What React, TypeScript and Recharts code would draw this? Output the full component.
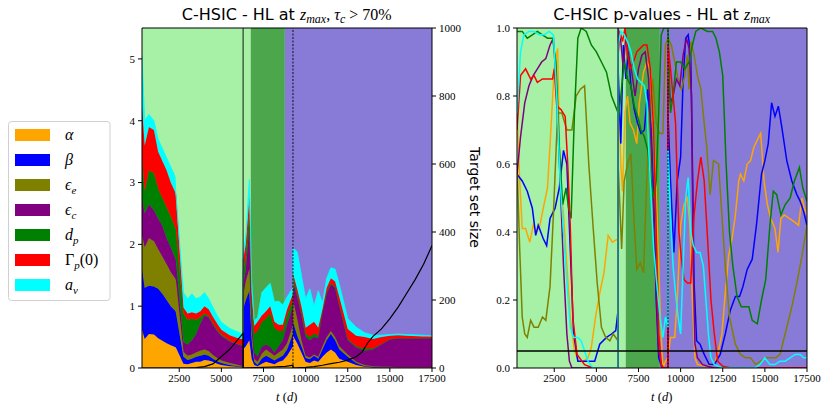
import React from 'react';
import { ComposedChart, Area, Line, XAxis, YAxis, ReferenceArea, ReferenceLine } from 'recharts';

const SERIF = "'Liberation Serif', 'DejaVu Serif', serif";
const SANS = "'DejaVu Sans', sans-serif";

const T0 = 290;
const T1 = 17500;
const B1 = 6290; // solid boundary
const B2 = 9250; // dotted boundary
const DARK0 = 6740;
const DARK1 = 8770;

const xTicks = [2500, 5000, 7500, 10000, 12500, 15000, 17500];
const leftTicks = [0, 1, 2, 3, 4, 5];
const sizeTicks = [0, 200, 400, 600, 800, 1000];
const pTicks = [0, 0.2, 0.4, 0.6, 0.8, 1.0];

const names = ['α', 'β', 'ϵe', 'ϵc', 'dp', 'Γp(0)', 'av'];
const colors = ['#ffa500', '#0000ff', '#808000', '#800080', '#008000', '#ff0000', '#00ffff'];

// ---- left chart: stacked HSIC indices (layer thickness) ----
const stackT = [
  290, 450, 700, 1000, 1250, 1500, 1750, 2000, 2250, 2300, 2750, 3000, 3250, 3500, 3750, 4000, 4250, 4500, 4750, 5000, 5500, 6000, 6290,
  6290, 6450, 6660, 6800, 6950, 7150, 7400, 7650, 7900, 8150, 8400, 8650, 8900, 9250,
  9250, 9500, 9750, 10000, 10250, 10500, 10750, 11000, 11250, 11500, 11750, 12000, 12500, 13000, 13500, 14000, 14500, 15000, 15500, 16000, 17000, 17500,
];
const alphaS = [
  0.62, 0.47, 0.55, 0.54, 0.48, 0.44, 0.40, 0.37, 0.34, 0.33, 0.07, 0.06, 0.08, 0.10, 0.10, 0.13, 0.12, 0.10, 0.07, 0.05, 0.03, 0.02, 0.01,
  0.30, 0.35, 0.45, 0.15, 0.05, 0.03, 0.07, 0.10, 0.08, 0.06, 0.10, 0.12, 0.20, 0.35,
  0.52, 0.40, 0.25, 0.10, 0.08, 0.12, 0.10, 0.18, 0.25, 0.30, 0.25, 0.15, 0.10, 0.05, 0.02, 0.01, 0.01, 0, 0, 0, 0, 0,
];
const betaS = [
  0.98, 0.83, 0.78, 0.78, 0.80, 0.76, 0.70, 0.63, 0.59, 0.57, 0.11, 0.07, 0.07, 0.08, 0.10, 0.09, 0.08, 0.05, 0.04, 0.03, 0.02, 0.01, 0.01,
  0.65, 0.75, 0.80, 0.30, 0.05, 0.02, 0.08, 0.10, 0.08, 0.06, 0.06, 0.08, 0.10, 0.20,
  0.23, 0.12, 0.10, 0.06, 0.06, 0.08, 0.05, 0.12, 0.20, 0.25, 0.20, 0.15, 0.08, 0.03, 0.01, 0.01, 0, 0.01, 0, 0, 0, 0,
];
const epsES = [
  0.55, 0.65, 0.77, 0.73, 0.64, 0.60, 0.58, 0.55, 0.52, 0.52, 0.08, 0.07, 0.07, 0.07, 0.08, 0.08, 0.07, 0.06, 0.05, 0.04, 0.03, 0.02, 0.01,
  0.20, 0.30, 0.35, 0.15, 0.05, 0.05, 0.08, 0.10, 0.09, 0.08, 0.09, 0.10, 0.10, 0.15,
  0.35, 0.28, 0.10, 0.04, 0.03, 0.02, 0.03, 0.05, 0.05, 0.05, 0.05, 0.05, 0.04, 0.02, 0.02, 0.01, 0.01, 0.01, 0.01, 0.01, 0.01, 0.01,
];
const epsCS = [
  0.60, 0.55, 0.55, 0.50, 0.50, 0.50, 0.42, 0.40, 0.33, 0.33, 0.16, 0.18, 0.23, 0.30, 0.44, 0.55, 0.55, 0.49, 0.44, 0.40, 0.35, 0.33, 0.33,
  0.20, 0.20, 0.70, 0.20, 0.10, 0.08, 0.11, 0.08, 0.09, 0.05, 0.10, 0.15, 0.30, 0.30,
  0.30, 0.35, 0.40, 0.30, 0.28, 0.28, 0.30, 0.55, 0.70, 0.75, 0.80, 0.65, 0.23, 0.23, 0.23, 0.27, 0.36, 0.44, 0.47, 0.47, 0.47, 0.47,
];
const dpS = [
  0.65, 0.35, 0.55, 0.60, 0.48, 0.45, 0.50, 0.50, 0.50, 0.50, 0.46, 0.40, 0.35, 0.23, 0.10, 0.03, 0.02, 0.02, 0.02, 0.02, 0.01, 0.01, 0.01,
  0.20, 0.20, 0.25, 0.20, 0.30, 0.42, 0.41, 0.42, 0.54, 0.40, 0.25, 0.15, 0.15, 0.10,
  0.08, 0.05, 0.05, 0.06, 0.05, 0.06, 0.04, 0.02, 0.02, 0.02, 0.02, 0.02, 0.02, 0.02, 0.03, 0.02, 0.01, 0.01, 0, 0, 0, 0,
];
const gammaS = [
  0.85, 0.75, 0.70, 0.70, 0.60, 0.60, 0.60, 0.55, 0.57, 0.55, 0.10, 0.10, 0.10, 0.10, 0.10, 0.12, 0.11, 0.11, 0.10, 0.08, 0.09, 0.09, 0.09,
  0.20, 0.20, 0.20, 0.20, 0.13, 0.15, 0.10, 0.12, 0.12, 0.10, 0.10, 0.10, 0.10, 0.10,
  0.05, 0.08, 0.10, 0.09, 0.20, 0.19, 0.13, 0.03, 0.08, 0.08, 0.08, 0.13, 0.16, 0.17, 0.19, 0.15, 0.11, 0.05, 0.05, 0.04, 0.03, 0.03,
];
const avS = [
  0.80, 0.40, 0.20, 0.15, 0.20, 0.20, 0.20, 0.25, 0.25, 0.03, 0.24, 0.24, 0.30, 0.24, 0.23, 0.22, 0.17, 0.15, 0.13, 0.12, 0.11, 0.10, 0.09,
  0.10, 0.15, 0.30, 0.20, 0.09, 0.07, 0.37, 0.38, 0.37, 0.32, 0.38, 0.32, 0.20, 0.10,
  0.41, 0.60, 0.50, 0.47, 0.58, 0.25, 0.60, 0.10, 0.15, 0.17, 0.20, 0.20, 0.17, 0.14, 0.07, 0.06, 0.03, 0.02, 0.02, 0.02, 0.02, 0.01,
];

// target set size (right axis of left chart)
const targetSize: [number, number][] = [
  [290, 0], [2500, 0], [3000, 0], [3500, 1], [4000, 4], [4500, 12], [5000, 34], [5500, 55], [6000, 85], [6290, 102],
  [6290, 0], [7000, 1], [8000, 3], [8800, 5], [9250, 8],
  [9250, 0], [10000, 2], [10500, 4], [11000, 8], [11500, 13], [12000, 17], [12500, 23], [13000, 33], [13350, 47], [13700, 75],
  [14000, 93], [14500, 115], [15000, 145], [15500, 180], [16000, 220], [16500, 260], [17000, 305], [17500, 360],
];

// ---- right chart: p-values ----
const pAlpha: [number, number][] = [
  [290, 0.75], [450, 0.55], [600, 0.41], [800, 0.41], [1050, 0.37], [1250, 0.42], [1450, 0.40], [1650, 0.42], [1850, 0.47], [2100, 0.53], [2300, 0.70], [2500, 0.88], [2700, 0.94], [2850, 0.55], [3050, 0.45], [3250, 0.30], [3450, 0.15], [3700, 0.05], [3950, 0.02], [4250, 0.02], [4500, 0.03], [4700, 0.06], [4950, 0.15], [5200, 0.22], [5450, 0.28], [5700, 0.39], [5950, 0.37], [6290, 0.38],
  [6290, 0.85], [6450, 0.6], [6550, 0.52], [6700, 0.75], [6850, 0.8], [7000, 0.72], [7200, 0.7], [7400, 0.66], [7550, 0.78], [7800, 0.87], [8000, 0.9], [8200, 0.88], [8400, 0.7], [8600, 0.45], [8800, 0.15], [8950, 0.0], [9100, 0.02], [9250, 0.03],
  [9250, 0.03], [9400, 0.09], [9650, 0.09], [9800, 0.2], [10000, 0.42], [10200, 0.48], [10400, 0.5], [10550, 0.42], [10700, 0.2], [10850, 0.03], [11000, 0.01], [11500, 0.005], [12000, 0.01], [12250, 0.05], [12450, 0.1], [12650, 0.22], [12850, 0.33], [13050, 0.38], [13250, 0.45], [13450, 0.55], [13550, 0.57], [13750, 0.55], [13950, 0.6], [14150, 0.61], [14350, 0.65], [14550, 0.67], [14750, 0.69], [14950, 0.55], [15150, 0.48], [15350, 0.44], [15600, 0.41], [15780, 0.34], [15950, 0.44], [16150, 0.45], [16450, 0.44], [16750, 0.43], [17000, 0.42], [17200, 0.5], [17350, 0.47], [17500, 0.45],
];
const pBeta: [number, number][] = [
  [290, 0.57], [600, 0.55], [900, 0.52], [1200, 0.47], [1400, 0.39], [1550, 0.42], [1700, 0.40], [1850, 0.38], [2050, 0.36], [2250, 0.44], [2550, 0.47], [2800, 0.53], [3050, 0.64], [3250, 0.6], [3450, 0.35], [3650, 0.1], [3900, 0.02], [4300, 0.02], [4900, 0.02], [5200, 0.07], [5600, 0.09], [5900, 0.1], [6150, 0.11], [6290, 0.17],
  [6290, 0.88], [6450, 0.66], [6600, 0.95], [6750, 0.85], [6900, 0.93], [7050, 0.83], [7250, 0.76], [7450, 0.72], [7650, 0.69], [7850, 0.7], [8050, 0.82], [8250, 0.7], [8400, 0.5], [8550, 0.2], [8700, 0.03], [8900, 0], [9250, 0],
  [9250, 0.75], [9400, 0.55], [9600, 0.34], [9800, 0.55], [10000, 0.62], [10150, 0.85], [10300, 0.97], [10450, 0.98], [10600, 0.92], [10700, 0.6], [10800, 0.25], [10950, 0.08], [11150, 0.07], [11400, 0.04], [11700, 0.01], [12000, 0.01], [12350, 0.04], [12650, 0.1], [12950, 0.17], [13250, 0.21], [13500, 0.21], [13700, 0.24], [13950, 0.29], [14250, 0.32], [14500, 0.42], [14800, 0.57], [15000, 0.61], [15200, 0.66], [15400, 0.78], [15600, 0.74], [15800, 0.77], [16000, 0.71], [16300, 0.61], [16600, 0.55], [16900, 0.51], [17100, 0.49], [17300, 0.46], [17500, 0.42],
];
const pEpsE: [number, number][] = [
  [290, 0.6], [450, 0.35], [600, 0.15], [750, 0.1], [900, 0.09], [1100, 0.14], [1300, 0.12], [1550, 0.12], [1800, 0.15], [2000, 0.14], [2250, 0.24], [2450, 0.45], [2700, 0.75], [2950, 0.75], [3250, 0.7], [3550, 0.7], [3800, 0.8], [4050, 0.82], [4300, 0.83], [4550, 0.6], [4800, 0.42], [5050, 0.25], [5300, 0.12], [5550, 0.09], [5800, 0.08], [6000, 0.1], [6290, 0.08],
  [6290, 0.6], [6500, 0.35], [6650, 0.55], [6850, 0.6], [7050, 0.63], [7250, 0.42], [7400, 0.29], [7600, 0.31], [7800, 0.28], [7950, 0.5], [8150, 0.75], [8350, 0.85], [8550, 0.72], [8750, 0.69], [8950, 0.69], [9100, 0.95], [9250, 0.97],
  [9250, 0.97], [9450, 0.95], [9650, 0.9], [9850, 0.85], [10050, 0.82], [10250, 0.86], [10400, 0.92], [10500, 0.82], [10600, 0.96], [10800, 0.92], [11000, 0.86], [11200, 0.82], [11400, 0.72], [11550, 0.65], [11750, 0.51], [11950, 0.61], [12250, 0.6], [12450, 0.45], [12650, 0.3], [12900, 0.15], [13250, 0.07], [13550, 0.04], [13850, 0.03], [14150, 0.03], [14450, 0.01], [14750, 0.02], [15050, 0.03], [15350, 0.03], [15650, 0.03], [15900, 0.04], [16100, 0.08], [16300, 0.12], [16600, 0.18], [16900, 0.25], [17200, 0.33], [17500, 0.42],
];
const pEpsC: [number, number][] = [
  [290, 0.57], [500, 0.68], [750, 0.78], [1000, 0.83], [1250, 0.86], [1500, 0.88], [1750, 0.9], [2000, 0.91], [2250, 0.95], [2450, 0.97], [2600, 0.85], [2850, 0.55], [3050, 0.3], [3250, 0.1], [3400, 0.02], [3550, 0], [6290, 0],
  [6290, 1.0], [6450, 0.96], [6600, 0.88], [6750, 0.98], [6900, 0.92], [7100, 0.87], [7300, 0.8], [7500, 0.88], [7700, 0.92], [7900, 0.93], [8100, 0.85], [8300, 0.6], [8500, 0.3], [8700, 0.05], [8900, 0], [9250, 0],
  [9250, 0.85], [9400, 0.78], [9550, 0.8], [9750, 0.85], [9950, 0.83], [10150, 0.92], [10350, 0.97], [10500, 0.94], [10650, 0.8], [10750, 0.3], [10850, 0.07], [11000, 0.03], [11300, 0.01], [11600, 0.005], [12000, 0], [17500, 0],
];
const pDp: [number, number][] = [
  [290, 0.99], [600, 0.99], [900, 0.97], [1200, 0.98], [1500, 0.99], [1800, 0.98], [2100, 0.97], [2400, 0.97], [2600, 0.9], [2800, 0.65], [3000, 0.48], [3200, 0.53], [3350, 0.47], [3500, 0.44], [3700, 0.75], [3900, 0.97], [4100, 1.0], [4400, 0.99], [4700, 0.95], [5000, 0.93], [5300, 0.9], [5600, 0.87], [5900, 0.8], [6290, 0.75],
  [6290, 0.72], [6450, 0.8], [6650, 0.9], [6850, 0.85], [7050, 0.83], [7250, 0.77], [7450, 0.74], [7650, 0.7], [7850, 0.68], [8050, 0.64], [8250, 0.55], [8400, 0.5], [8550, 0.55], [8700, 0.75], [8850, 0.98], [9000, 1.0], [9250, 1.0],
  [9250, 1.0], [9400, 0.75], [9550, 0.8], [9750, 0.9], [10000, 0.9], [10250, 0.88], [10500, 0.9], [10700, 0.95], [10900, 0.99], [11200, 1.0], [11600, 0.99], [11900, 0.99], [12100, 0.97], [12300, 0.93], [12500, 0.86], [12700, 0.6], [12900, 0.4], [13100, 0.3], [13350, 0.21], [13600, 0.18], [13800, 0.18], [14050, 0.18], [14250, 0.14], [14550, 0.13], [14800, 0.2], [15050, 0.26], [15300, 0.42], [15500, 0.52], [15700, 0.51], [15950, 0.45], [16200, 0.48], [16500, 0.5], [16750, 0.55], [17050, 0.59], [17250, 0.53], [17500, 0.49],
];
const pGamma: [number, number][] = [
  [290, 0.7], [500, 0.86], [800, 0.88], [1100, 0.85], [1300, 0.86], [1500, 0.84], [1800, 0.85], [2100, 0.85], [2400, 0.85], [2500, 0.88], [2650, 0.77], [2900, 0.76], [3150, 0.74], [3300, 0.6], [3450, 0.42], [3600, 0.15], [3850, 0.04], [4300, 0.01], [4800, 0], [6290, 0],
  [6290, 0.92], [6400, 0.99], [6550, 0.96], [6700, 1.0], [6850, 0.92], [7000, 0.88], [7200, 0.9], [7400, 0.93], [7600, 0.94], [7800, 0.95], [8000, 0.95], [8200, 0.88], [8400, 0.7], [8550, 0.4], [8700, 0.1], [8850, 0.01], [9000, 0], [9250, 0],
  [9250, 0.95], [9400, 0.88], [9550, 0.8], [9700, 0.72], [9800, 0.55], [9900, 0.4], [10050, 0.32], [10200, 0.26], [10400, 0.25], [10600, 0.25], [10800, 0.45], [11000, 0.55], [11200, 0.62], [11400, 0.55], [11600, 0.38], [11800, 0.2], [12000, 0.1], [12200, 0.02], [12500, 0.005], [13000, 0], [17500, 0],
];
const pAv: [number, number][] = [
  [290, 0.75], [500, 0.93], [700, 0.98], [1000, 0.99], [1300, 0.99], [1600, 0.98], [1900, 0.98], [2200, 0.99], [2450, 0.98], [2650, 0.8], [2850, 0.55], [3050, 0.4], [3250, 0.25], [3450, 0.12], [3650, 0.09], [3900, 0.09], [4100, 0.08], [4300, 0.05], [4500, 0.02], [4800, 0], [6290, 0],
  [6290, 0.95], [6450, 0.99], [6650, 0.98], [6850, 0.96], [7050, 0.93], [7250, 0.88], [7450, 0.85], [7650, 0.84], [7850, 0.83], [8000, 0.78], [8100, 0.65], [8250, 0.5], [8400, 0.35], [8600, 0.24], [8800, 0.14], [8950, 0.09], [9100, 0.15], [9250, 0.12],
  [9250, 0.64], [9400, 0.45], [9550, 0.3], [9700, 0.22], [9850, 0.15], [10000, 0.1], [10150, 0.3], [10300, 0.5], [10450, 0.56], [10600, 0.4], [10750, 0.36], [10950, 0.34], [11150, 0.34], [11350, 0.3], [11500, 0.2], [11650, 0.1], [11800, 0.03], [12000, 0.01], [12500, 0], [14400, 0], [14700, 0.01], [15000, 0.03], [15300, 0.01], [15600, 0.01], [15900, 0.02], [16200, 0.02], [16500, 0.03], [16800, 0.04], [17100, 0.04], [17300, 0.03], [17500, 0.03],
];
const pThreshold = 0.05;

const stackKeys = ['a', 'b', 'ee', 'ec', 'dp', 'g', 'av'];
const stackCols = [alphaS, betaS, epsES, epsCS, dpS, gammaS, avS];
const stackRows = stackT.map((t, i) => {
  const row: Record<string, number> = { t };
  stackKeys.forEach((k, j) => { row[k] = stackCols[j][i]; });
  return row;
});
const toRows = (pairs: [number, number][]) => pairs.map(([t, v]) => ({ t, v }));
const pSeries = [pAlpha, pBeta, pEpsE, pEpsC, pDp, pGamma, pAv];

const LIGHT = '#a6f1a6';
const DARK = '#4ca64c';
const PURPLE = '#887bd7';

const tickStyle = { fill: '#000', fontSize: 11, fontFamily: SERIF };

function Backgrounds(yId: string) {
  return [
    <ReferenceArea key="bg1" yAxisId={yId} x1={T0} x2={DARK0} fill={LIGHT} fillOpacity={1} stroke="none" ifOverflow="hidden" zIndex={-100} />,
    <ReferenceArea key="bg2" yAxisId={yId} x1={DARK0} x2={DARK1} fill={DARK} fillOpacity={1} stroke="none" ifOverflow="hidden" zIndex={-100} />,
    <ReferenceArea key="bg3" yAxisId={yId} x1={DARK1} x2={T1} fill={PURPLE} fillOpacity={1} stroke="none" ifOverflow="hidden" zIndex={-100} />,
  ];
}

function LeftChart() {
  return (
    <ComposedChart width={480} height={411} data={stackRows} margin={{ top: 28, right: 0, bottom: 0, left: 0 }}>
      <XAxis dataKey="t" type="number" domain={[T0, T1]} ticks={xTicks} allowDataOverflow interval={0} height={43}
        tickSize={4} tickMargin={2} axisLine={{ stroke: '#000' }} tickLine={{ stroke: '#000' }} tick={tickStyle} />
      <YAxis yAxisId="l" type="number" domain={[0, 5.5]} ticks={leftTicks} allowDataOverflow width={142} interval={0}
        tickSize={4} tickMargin={3} axisLine={{ stroke: '#000' }} tickLine={{ stroke: '#000' }} tick={tickStyle} />
      <YAxis yAxisId="r" orientation="right" type="number" domain={[0, 1000]} ticks={sizeTicks} allowDataOverflow width={48} interval={0}
        tickSize={4} tickMargin={3} axisLine={{ stroke: '#000' }} tickLine={{ stroke: '#000' }} tick={tickStyle} />
      {Backgrounds('l')}
      {stackKeys.map((k, j) => (
        <Area key={k} yAxisId="l" dataKey={k} stackId="s" type="linear" fill={colors[j]} fillOpacity={1}
          stroke={colors[j]} strokeWidth={0.8} isAnimationActive={false} dot={false} activeDot={false} />
      ))}
      <Line yAxisId="r" data={toRows(targetSize)} dataKey="v" type="linear" stroke="#000" strokeWidth={1.2}
        dot={false} activeDot={false} isAnimationActive={false} />
      <ReferenceLine yAxisId="l" x={B1} stroke="#000" strokeWidth={0.9} zIndex={700} />
      <ReferenceLine yAxisId="l" x={B2} stroke="#000" strokeWidth={0.9} strokeDasharray="2 1.5" zIndex={700} />
      <ReferenceLine yAxisId="l" y={5.5} stroke="#000" strokeWidth={1} zIndex={700} />
    </ComposedChart>
  );
}

function RightChart() {
  return (
    <ComposedChart width={390} height={411} margin={{ top: 28, right: 23, bottom: 0, left: 0 }}>
      <XAxis dataKey="t" type="number" domain={[T0, T1]} ticks={xTicks} allowDataOverflow interval={0} height={43}
        tickSize={4} tickMargin={2} axisLine={{ stroke: '#000' }} tickLine={{ stroke: '#000' }} tick={tickStyle} />
      <YAxis yAxisId="p" type="number" domain={[0, 1]} ticks={pTicks} allowDataOverflow width={77} interval={0}
        tickFormatter={(v: number) => v.toFixed(1)}
        tickSize={4} tickMargin={3} axisLine={{ stroke: '#000' }} tickLine={{ stroke: '#000' }} tick={tickStyle} />
      {Backgrounds('p')}
      {pSeries.map((s, j) => (
        <Line key={names[j]} yAxisId="p" data={toRows(s)} dataKey="v" type="linear" stroke={colors[j]} strokeWidth={1.5}
          dot={false} activeDot={false} isAnimationActive={false} />
      ))}
      <ReferenceLine yAxisId="p" y={pThreshold} stroke="#000" strokeWidth={1.4} zIndex={700} />
      <ReferenceLine yAxisId="p" x={B1} stroke="#1e3a4a" strokeWidth={1} zIndex={700} />
      <ReferenceLine yAxisId="p" x={B2} stroke="#000" strokeWidth={0.9} strokeDasharray="2 1.5" zIndex={700} />
      <ReferenceLine yAxisId="p" y={1} stroke="#000" strokeWidth={1} zIndex={700} />
      <ReferenceLine yAxisId="p" x={T1} stroke="#000" strokeWidth={1} zIndex={700} />
    </ComposedChart>
  );
}

function Overlay() {
  const legendY0 = 135;
  const step = 25;
  const mathLabel = (i: number) => {
    const base = { fontFamily: SERIF, fontStyle: 'italic' as const };
    switch (i) {
      case 0: return <tspan {...base}>α</tspan>;
      case 1: return <tspan {...base}>β</tspan>;
      case 2: return <><tspan {...base}>ϵ</tspan><tspan {...base} fontSize={11} dy={4}>e</tspan></>;
      case 3: return <><tspan {...base}>ϵ</tspan><tspan {...base} fontSize={11} dy={4}>c</tspan></>;
      case 4: return <><tspan {...base}>d</tspan><tspan {...base} fontSize={11} dy={4}>p</tspan></>;
      case 5: return <><tspan fontFamily={SERIF}>Γ</tspan><tspan {...base} fontSize={11} dy={4}>p</tspan><tspan fontFamily={SERIF} dy={-4}>(0)</tspan></>;
      default: return <><tspan {...base}>a</tspan><tspan {...base} fontSize={11} dy={4}>v</tspan></>;
    }
  };
  return (
    <svg width={830} height={411} style={{ position: 'absolute', left: 0, top: 0, pointerEvents: 'none' }}>
      {/* titles */}
      <text x={286.7} y={20} textAnchor="middle" fontSize={16} fontFamily={SANS} fill="#000">
        <tspan>C-HSIC - HL at </tspan>
        <tspan fontFamily={SERIF} fontStyle="italic">z</tspan>
        <tspan fontFamily={SERIF} fontStyle="italic" fontSize={12} dy={3}>max</tspan>
        <tspan fontFamily={SERIF} dy={-3}>, </tspan>
        <tspan fontFamily={SERIF} fontStyle="italic">τ</tspan>
        <tspan fontFamily={SERIF} fontStyle="italic" fontSize={12} dy={3}>c</tspan>
        <tspan fontFamily={SERIF} dy={-3}> &gt; 70%</tspan>
      </text>
      <text x={661.7} y={20} textAnchor="middle" fontSize={16} fontFamily={SANS} fill="#000">
        <tspan>C-HSIC p-values - HL at </tspan>
        <tspan fontFamily={SERIF} fontStyle="italic">z</tspan>
        <tspan fontFamily={SERIF} fontStyle="italic" fontSize={12} dy={3}>max</tspan>
      </text>
      {/* axis labels */}
      <text x={286.7} y={401} textAnchor="middle" fontSize={12.5} fontFamily={SERIF} fill="#000">
        <tspan fontStyle="italic">t</tspan><tspan> (</tspan><tspan fontStyle="italic">d</tspan><tspan>)</tspan>
      </text>
      <text x={661.7} y={401} textAnchor="middle" fontSize={12.5} fontFamily={SERIF} fill="#000">
        <tspan fontStyle="italic">t</tspan><tspan> (</tspan><tspan fontStyle="italic">d</tspan><tspan>)</tspan>
      </text>
      <text x={470} y={197.5} textAnchor="middle" fontSize={14} fontFamily={SANS} fill="#000"
        transform="rotate(90 470 197.5)">Target set size</text>
      {/* legend */}
      <rect x={8.5} y={121.5} width={101.5} height={179} rx={3} ry={3} fill="#fff" stroke="#d0d0d0" strokeWidth={1} />
      {names.map((n, i) => (
        <g key={n}>
          <rect x={15} y={legendY0 + i * step - 6} width={35} height={12} fill={colors[i]} />
          <text x={65} y={legendY0 + i * step + 5} fontSize={16} fill="#000">{mathLabel(i)}</text>
        </g>
      ))}
    </svg>
  );
}

export default function App() {
  return (
    <div style={{ position: 'absolute', left: 0, top: 0, width: 830, height: 411, background: '#fff' }}>
      <style>{`.recharts-cartesian-axis-tick-value { font-family: 'Liberation Serif', 'DejaVu Serif', serif; }`}</style>
      <div style={{ position: 'absolute', left: 0, top: 0 }}>
        <LeftChart />
      </div>
      <div style={{ position: 'absolute', left: 440, top: 0 }}>
        <RightChart />
      </div>
      <Overlay />
    </div>
  );
}
